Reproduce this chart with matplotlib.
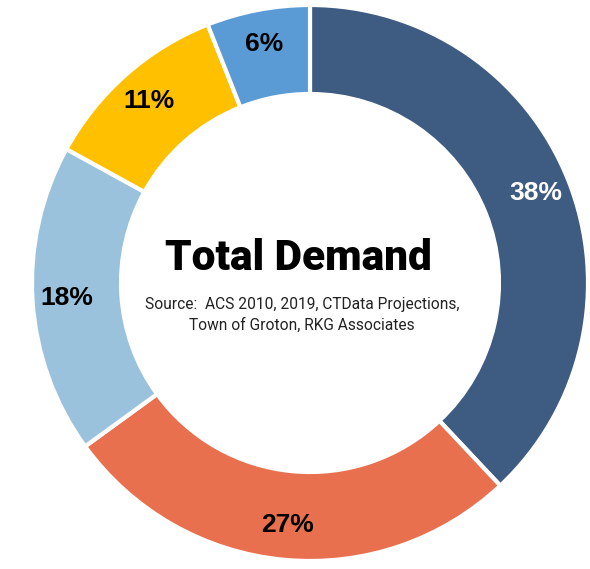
import matplotlib
matplotlib.use("Agg")
import matplotlib.pyplot as plt

labels = ["38%", "27%", "18%", "11%", "6%"]
values = [38, 27, 18, 11, 6]
colors = ["#3E5C82", "#E8704F", "#9BC2DC", "#FFC000", "#5B9BD5"]
label_colors = ["white", "black", "black", "black", "black"]
title = "Total Demand"
source = "Source:  ACS 2010, 2019, CTData Projections,\nTown of Groton, RKG Associates"

fig = plt.figure(figsize=(5.9, 5.69), dpi=100)
ax = fig.add_axes([0, 0, 1, 1])
ax.set_xlim(0, 590)
ax.set_ylim(0, 569)
ax.set_aspect("equal")
ax.axis("off")

cx, cy, R = 310, 569 - 283, 278
wedges, texts = ax.pie(values, colors=colors, startangle=90, counterclock=False,
                       center=(cx, cy), radius=R, labels=labels, labeldistance=0.875,
                       wedgeprops=dict(width=89, edgecolor="white", linewidth=3),
                       textprops=dict(fontsize=19, fontweight="bold", family="Liberation Sans",
                                      ha="center", va="center"))
for t, c in zip(texts, label_colors):
    t.set_color(c)
ax.set_xlim(0, 590)
ax.set_ylim(0, 569)

ax.text(cx - 12, 569 - 258, title, fontsize=30.5, fontweight="black", family="Roboto",
        ha="center", va="center", color="black")
ax.text(cx - 8, 569 - 315, source, fontsize=11.2, family="Roboto",
        ha="center", va="center", color="#222222", linespacing=1.45)

fig.savefig("out.png", dpi=100)
